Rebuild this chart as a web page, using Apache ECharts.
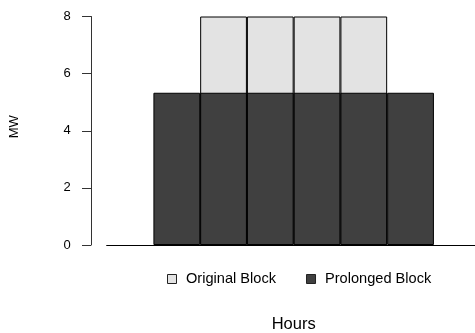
<!DOCTYPE html>
<html>
<head>
<meta charset="utf-8">
<script src="https://cdn.jsdelivr.net/npm/echarts@6/dist/echarts.min.js"></script>
<style>
  html, body { margin: 0; padding: 0; background: #fff; }
  #chart { width: 475px; height: 333px; }
</style>
</head>
<body>
<div id="chart"></div>
<script>
// Hourly power profile: the original 4-hour block and the same energy spread over 6 hours
const hours = ['0', '1', '2', '3', '4', '5', '6', '7'];
const originalBlock = [null, null, 8, 8, 8, 8, null, null];
const prolongedBlock = [null, 5.33, 5.33, 5.33, 5.33, 5.33, 5.33, null];
const yTicks = [0, 2, 4, 6, 8];

const chart = echarts.init(document.getElementById('chart'));
const font = 'Liberation Sans, Arial, sans-serif';

chart.setOption({
  animation: false,
  backgroundColor: '#ffffff',
  textStyle: { fontFamily: font },
  grid: { left: 106.67, right: -5.67, top: 16.5, bottom: 88, containLabel: false, outerBoundsMode: 'none' },
  legend: {
    left: 162,
    top: 266.5,
    itemWidth: 9,
    itemHeight: 9,
    itemGap: 30,
    icon: 'rect',
    itemStyle: { borderColor: '#222', borderWidth: 1 },
    textStyle: { fontFamily: font, fontSize: 14.6, color: '#000', padding: [0, 0, 0, 4.5] },
    data: ['Original Block', 'Prolonged Block']
  },
  xAxis: {
    type: 'category',
    data: hours,
    boundaryGap: true,
    axisLine: { show: true, lineStyle: { color: '#000', width: 1 } },
    axisTick: { show: false },
    axisLabel: { show: false },
    splitLine: { show: false },
    name: 'Hours',
    nameLocation: 'middle',
    nameGap: 70.5,
    nameTextStyle: { fontFamily: font, fontSize: 16.5, color: '#000' }
  },
  yAxis: {
    type: 'value',
    min: yTicks[0],
    max: yTicks[yTicks.length - 1],
    interval: 2,
    offset: 15.67,
    axisLine: { show: true, lineStyle: { color: '#333', width: 1 } },
    axisTick: { show: true, length: 9, lineStyle: { color: '#333' } },
    axisLabel: { fontFamily: font, fontSize: 13, color: '#000', margin: 20.3 },
    splitLine: { show: false },
    name: 'MW',
    nameLocation: 'middle',
    nameRotate: 90,
    nameGap: 70,
    nameTextStyle: { fontFamily: font, fontSize: 13, color: '#000', padding: [0, 0, 0, 8] }
  },
  series: [
    {
      name: 'Original Block',
      type: 'bar',
      data: originalBlock,
      barCategoryGap: '0%',
      barGap: '-100%',
      itemStyle: { color: '#e3e3e3', borderColor: '#000', borderWidth: 1 }
    },
    {
      name: 'Prolonged Block',
      type: 'bar',
      data: prolongedBlock,
      barCategoryGap: '0%',
      barGap: '-100%',
      itemStyle: { color: '#404040', borderColor: '#000', borderWidth: 1 }
    }
  ]
});
</script>
</body>
</html>
